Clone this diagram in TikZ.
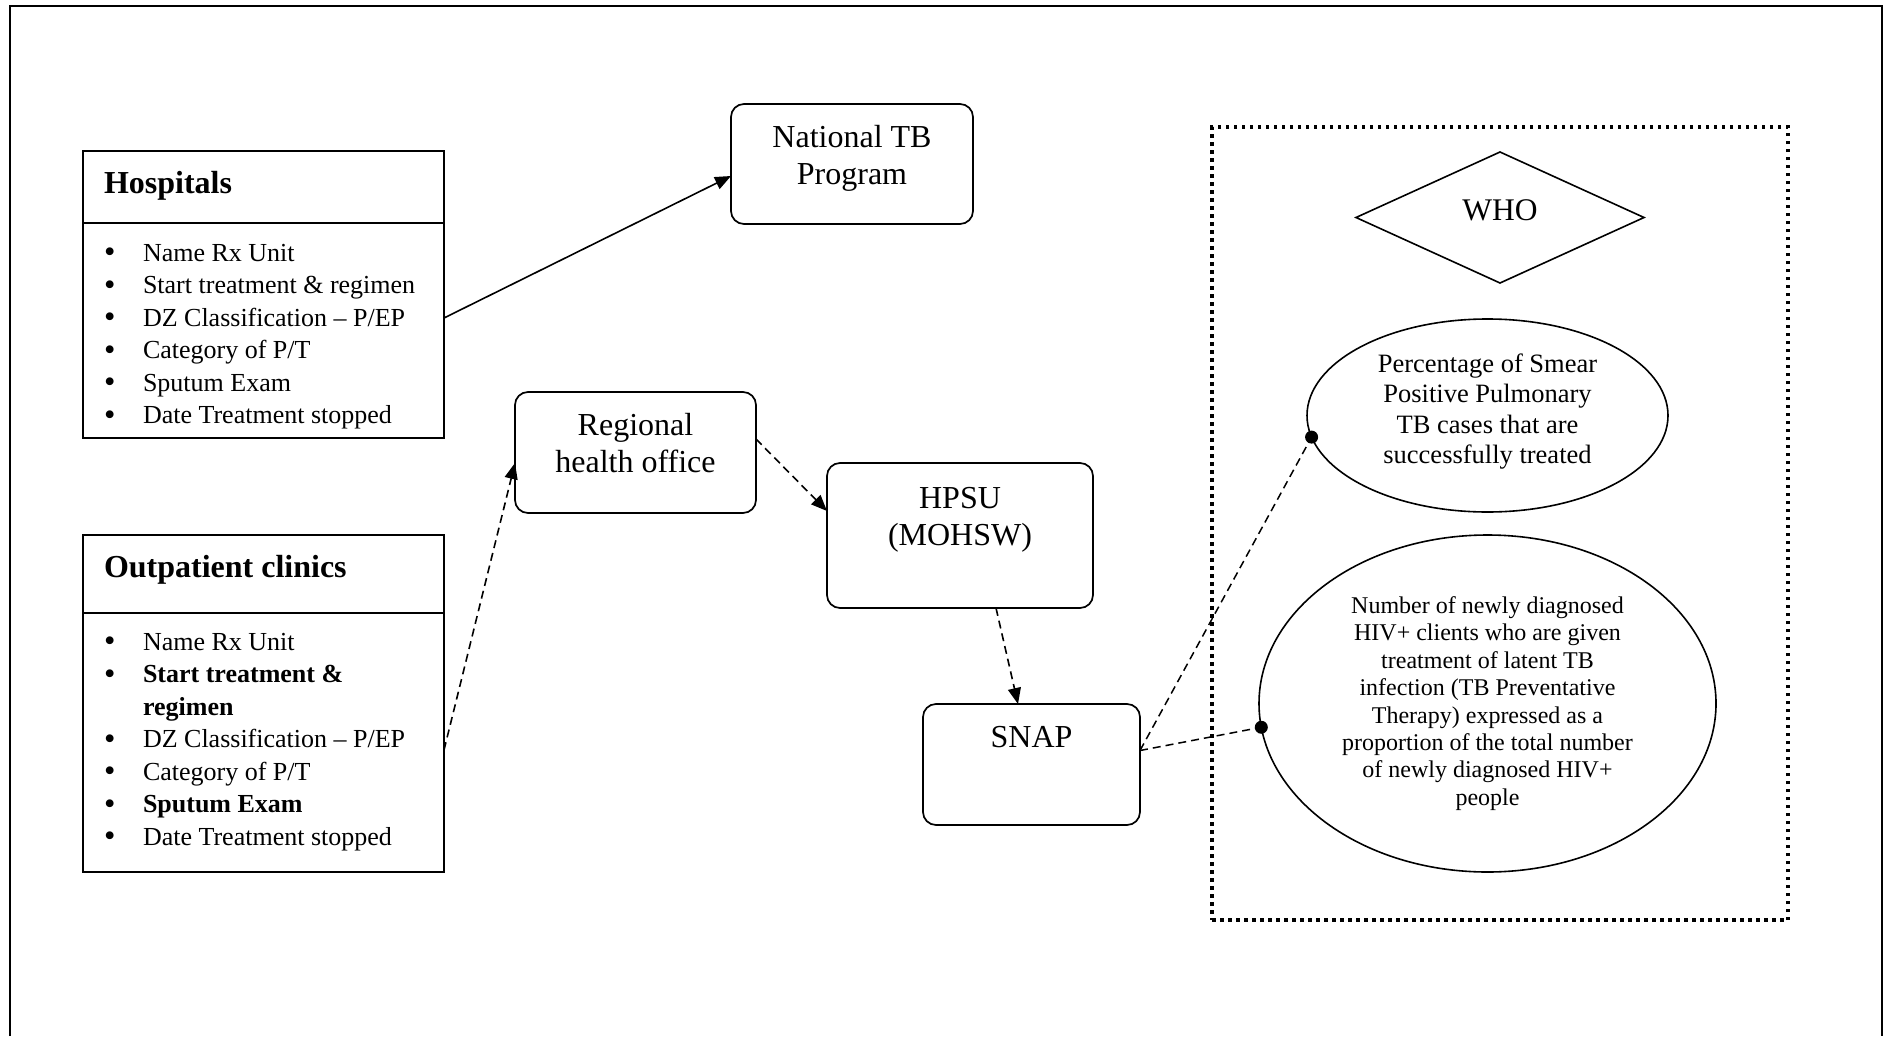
\documentclass[tikz,border=0pt]{standalone}
\usepackage{fontspec}
\setmainfont{Liberation Serif}
\usepackage{graphicx}
\usetikzlibrary{arrows.meta,shapes.geometric,calc}
\newcommand{\myfs}[2]{\fontsize{#1}{#2}\selectfont}
\newcommand{\bitem}{\makebox[39pt][l]{\raisebox{-1.5pt}{\scalebox{1.25}{\textbullet}}}}
\begin{document}
\begin{tikzpicture}[x=1pt,y=-1pt,
  box/.style={draw, line width=1.7pt, inner sep=0pt, outer sep=0pt, anchor=north west},
  rbox/.style={box, rounded corners=13pt},
  txt/.style={inner sep=0pt, outer sep=0pt},
  conn/.style={line width=1.6pt, -{Triangle[length=16pt,width=13pt]}},
  dconn/.style={conn, dash pattern=on 8pt off 5pt},
  dline/.style={line width=1.5pt, dash pattern=on 8pt off 5pt},
  oval/.style={ellipse, draw, line width=1.6pt, inner sep=0pt, outer sep=0pt, align=center}
]
\useasboundingbox (0,0) rectangle (1886,1036);
% outer frame
\draw[line width=2.2pt] (10,1036) -- (10,6) -- (1882,6) -- (1882,1036);

% Hospitals
\node[box, minimum width=361pt, minimum height=72pt] (hosph) at (83,151) {};
\node[box, minimum width=361pt, minimum height=215pt] (hospb) at (83,223) {};
\node[txt, anchor=base west, font=\myfs{32}{38}\bfseries] (hosptitle) at (104,193) {Hospitals};
\node[txt, anchor=base west, font=\myfs{26}{32.5}] (hosplist) at (104,261)
 {\begin{tabular}[t]{@{}l@{}}
 \bitem Name Rx Unit\\
 \bitem Start treatment \& regimen\\
 \bitem DZ Classification -- P/EP\\
 \bitem Category of P/T\\
 \bitem Sputum Exam\\
 \bitem Date Treatment stopped
 \end{tabular}};

% Outpatient clinics
\node[box, minimum width=361pt, minimum height=78pt] (outh) at (83,535) {};
\node[box, minimum width=361pt, minimum height=259pt] (outb) at (83,613) {};
\node[txt, anchor=base west, font=\myfs{32}{38}\bfseries] (outtitle) at (104,577) {Outpatient clinics};
\node[txt, anchor=base west, font=\myfs{26}{32.5}] (outlist) at (104,650)
 {\begin{tabular}[t]{@{}l@{}}
 \bitem Name Rx Unit\\
 \bitem \textbf{Start treatment \&}\\
 \hspace*{39pt}\textbf{regimen}\\
 \bitem DZ Classification -- P/EP\\
 \bitem Category of P/T\\
 \bitem \textbf{Sputum Exam}\\
 \bitem Date Treatment stopped
 \end{tabular}};

% rounded boxes
\node[rbox, minimum width=242pt, minimum height=120pt] (ntp) at (731,104) {};
\node[txt, anchor=base, font=\myfs{32}{37}] (ntpt) at (852,147)
 {\begin{tabular}[t]{@{}c@{}}National TB\\Program\end{tabular}};

\node[rbox, minimum width=241pt, minimum height=121pt] (reg) at (515,392) {};
\node[txt, anchor=base, font=\myfs{32}{37}] (regt) at (635.5,435)
 {\begin{tabular}[t]{@{}c@{}}Regional\\health office\end{tabular}};

\node[rbox, minimum width=266pt, minimum height=145pt] (hpsu) at (827,463) {};
\node[txt, anchor=base, font=\myfs{32}{37}] (hpsut) at (960,508)
 {\begin{tabular}[t]{@{}c@{}}HPSU\\(MOHSW)\end{tabular}};

\node[rbox, minimum width=217pt, minimum height=121pt] (snap) at (923,704) {};
\node[txt, anchor=base, font=\myfs{32}{37}] (snapt) at (1031.5,747) {SNAP};

% WHO group
\node[draw, line width=3.5pt, dash pattern=on 3.5pt off 4.5pt, inner sep=0pt, outer sep=0pt,
  anchor=north west, minimum width=576pt, minimum height=793pt] (whogroup) at (1212,127) {};
\node[diamond, draw, line width=1.6pt, inner sep=0pt, outer sep=0pt, aspect=2.2,
  minimum width=288pt, minimum height=131pt] (who) at (1500,217.5) {};
\node[txt, anchor=base, font=\myfs{31.5}{36}] (whot) at (1500,220) {WHO};

\node[oval, minimum width=361pt, minimum height=193pt, font=\myfs{26.5}{30.4}] (e1) at (1487.5,415.5)
 {Percentage of Smear\\Positive Pulmonary\\TB cases that are\\successfully treated\rule[-13.7pt]{0pt}{0pt}};
\node[oval, minimum width=457pt, minimum height=337pt, font=\myfs{24}{27.4}] (e2) at (1487.5,703.5)
 {Number of newly diagnosed\\HIV+ clients who are given\\treatment of latent TB\\infection (TB Preventative\\Therapy) expressed as a\\proportion of the total number\\of newly diagnosed HIV+\\people};

% connectors
\draw[conn] ($(hospb.east)+(0,-12.5)$) -- ($(ntp.west)+(0,12)$);
\draw[dconn] ($(outb.east)+(0,7.5)$) -- ($(reg.west)+(0,10.5)$);
\draw[dconn] ($(reg.east)+(0,-13.5)$) -- ($(hpsu.west)+(0,-24.5)$);
\draw[dconn] ($(hpsu.south)+(36,0)$) -- ($(snap.north)+(-13.5,0)$);
\coordinate (snapout) at ($(snap.east)+(0,-14)$);
\draw[dline] (snapout) -- (e1.187.5);
\draw[dline] (snapout) -- (e2.186.2);
\fill (e1.187.5) circle (6.5pt);
\fill (e2.186.2) circle (6.5pt);
\end{tikzpicture}
\end{document}
